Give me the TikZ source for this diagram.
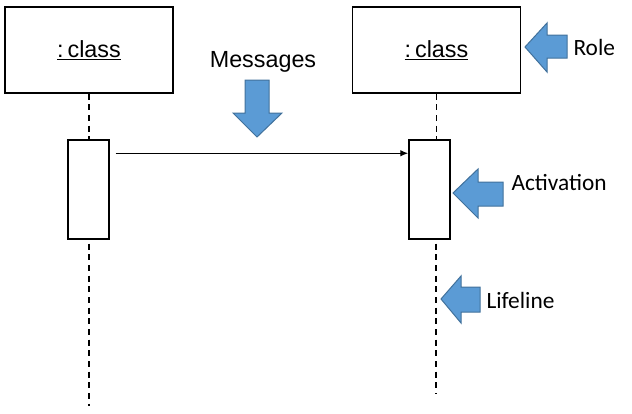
\documentclass[tikz,border=0pt]{standalone}
\usepackage{fontspec}
\setmainfont{Liberation Sans}
\newfontfamily\calloutfont{Carlito}
\usetikzlibrary{arrows.meta}

\definecolor{blockblue}{HTML}{5B9BD5}
\definecolor{blockedge}{HTML}{41719C}

\tikzset{every picture/.style={line width=0.75pt}}
\tikzset{
  objbox/.style={draw, line width=1.1pt, minimum width=126pt, minimum height=64.5pt, inner sep=0pt, font=\fontsize{17.5}{21}\selectfont},
  actbox/.style={draw, line width=1.1pt, minimum width=30.75pt, minimum height=74.25pt, inner sep=0pt},
  lifeline/.style={line width=1pt, dash pattern=on 4.5pt off 3.5pt},
  message/.style={line width=1pt, -{Latex[length=6pt,width=5pt]}, shorten <=4.5pt},
  blockarrow/.style={fill=blockblue, draw=blockedge, line width=0.75pt, line join=miter},
  calltext/.style={anchor=west, inner sep=0.75pt, font=\calloutfont\fontsize{17.5}{21}\selectfont},
}

\begin{document}
\begin{tikzpicture}[x=0.75pt,y=0.75pt,yscale=-1,xscale=1]
    \path (0,0) rectangle (632,414); %set diagram size to 632 x 414

    % Objects (roles)
    \node[objbox] (objA) at (89,50) {\underline{:\,class}};
    \node[objbox] (objB) at (436.5,50) {\underline{:\,class}};

    % Activations
    \node[actbox] (actA) at (88.5,189.5) {};
    \node[actbox] (actB) at (429.5,189.5) {};

    % Lifeline ends
    \coordinate (endA) at (89,406);
    \coordinate (endB) at (436,394);

    % Lifelines
    \draw[lifeline] (objA.south) -- (objA.south |- actA.north);
    \draw[lifeline] ([yshift=3pt]objA.south |- actA.south) -- (endA);
    \draw[lifeline] (objB.south) -- (objB.south |- actB.north);
    \draw[lifeline] ([yshift=3pt]endB |- actB.south) -- (endB);

    % Message
    \draw[message] ([yshift=10.5pt]actA.north east) -- ([yshift=10.5pt]actB.north west);

    %Shape: Down Arrow (messages)
    \draw[blockarrow] (257,137) -- (233,113) -- (245,113) -- (245,80) -- (269,80) -- (269,113) -- (282,113) -- cycle;
    %Shape: Left Arrow (role)
    \draw[blockarrow] (525,47) -- (547,23) -- (547,35) -- (567,35) -- (567,58) -- (547,58) -- (547,72) -- cycle;
    %Shape: Left Arrow (activation)
    \draw[blockarrow] (453,193) -- (478,169) -- (478,182) -- (503,182) -- (503,206) -- (478,206) -- (478,218) -- cycle;
    %Shape: Left Arrow (lifeline)
    \draw[blockarrow] (441,299) -- (461,276) -- (461,287) -- (480,287) -- (480,312) -- (461,312) -- (461,323) -- cycle;

    % Text Node
    \node[inner sep=0.75pt, font=\fontsize{17.5}{21}\selectfont] (msglabel) at (263,62) {Messages};
    % Text Node
    \node[calltext] (rolelabel) at (572,47) {Role};
    % Text Node
    \node[calltext] (actlabel) at (510,183) {Activation};
    % Text Node
    \node[calltext] (lifelabel) at (485,300) {Lifeline};

\end{tikzpicture}
\end{document}
